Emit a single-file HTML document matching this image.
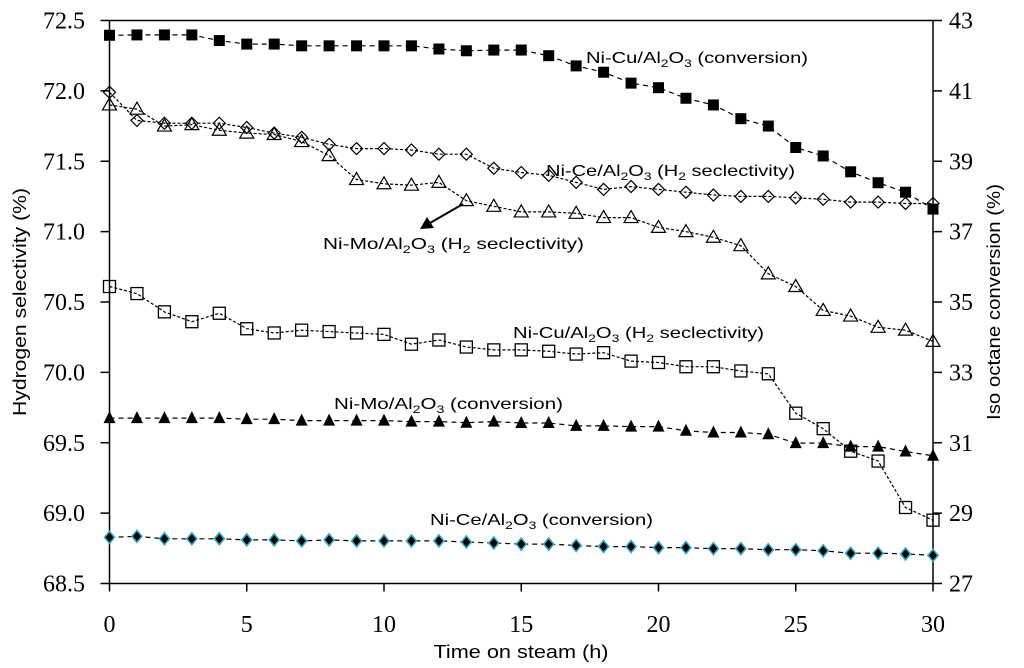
<!DOCTYPE html>
<html><head><meta charset="utf-8"><style>
html,body{margin:0;padding:0;background:#fff;}
svg{display:block;}
.lbl{font-family:"Liberation Sans",sans-serif;font-size:16px;fill:#000;}
.ttl{font-family:"Liberation Sans",sans-serif;font-size:18px;fill:#000;}
</style></head><body>
<svg id="chart" width="1024" height="668" viewBox="0 0 1024 668" xmlns="http://www.w3.org/2000/svg">
<g id="axes"></g>
<g id="series"></g>
<g id="labels">
  <text class="lbl" x="586" y="63" textLength="222" lengthAdjust="spacingAndGlyphs">Ni-Cu/Al<tspan font-size="11" dy="4">2</tspan><tspan dy="-4">O</tspan><tspan font-size="11" dy="4">3</tspan><tspan dy="-4"> (conversion)</tspan></text>
  <text class="lbl" x="546" y="176" textLength="249" lengthAdjust="spacingAndGlyphs">Ni-Ce/Al<tspan font-size="11" dy="4">2</tspan><tspan dy="-4">O</tspan><tspan font-size="11" dy="4">3</tspan><tspan dy="-4"> (H</tspan><tspan font-size="11" dy="4">2</tspan><tspan dy="-4"> seclectivity)</tspan></text>
  <text class="lbl" x="323" y="249" textLength="261" lengthAdjust="spacingAndGlyphs">Ni-Mo/Al<tspan font-size="11" dy="4">2</tspan><tspan dy="-4">O</tspan><tspan font-size="11" dy="4">3</tspan><tspan dy="-4"> (H</tspan><tspan font-size="11" dy="4">2</tspan><tspan dy="-4"> seclectivity)</tspan></text>
  <text class="lbl" x="513" y="338" textLength="251" lengthAdjust="spacingAndGlyphs">Ni-Cu/Al<tspan font-size="11" dy="4">2</tspan><tspan dy="-4">O</tspan><tspan font-size="11" dy="4">3</tspan><tspan dy="-4"> (H</tspan><tspan font-size="11" dy="4">2</tspan><tspan dy="-4"> seclectivity)</tspan></text>
  <text class="lbl" x="334" y="409" textLength="229" lengthAdjust="spacingAndGlyphs">Ni-Mo/Al<tspan font-size="11" dy="4">2</tspan><tspan dy="-4">O</tspan><tspan font-size="11" dy="4">3</tspan><tspan dy="-4"> (conversion)</tspan></text>
  <text class="lbl" x="430" y="525" textLength="223" lengthAdjust="spacingAndGlyphs">Ni-Ce/Al<tspan font-size="11" dy="4">2</tspan><tspan dy="-4">O</tspan><tspan font-size="11" dy="4">3</tspan><tspan dy="-4"> (conversion)</tspan></text>
  <line x1="463" y1="204" x2="430" y2="223" stroke="#000" stroke-width="2"/>
  <polygon points="420,229 427,217 434,228" fill="#000"/>
  <text class="ttl" x="521" y="658" text-anchor="middle" textLength="175" lengthAdjust="spacingAndGlyphs">Time on steam (h)</text>
  <text class="ttl" transform="translate(26,302) rotate(-90)" text-anchor="middle" textLength="228" lengthAdjust="spacingAndGlyphs">Hydrogen selectivity (%)</text>
  <text class="ttl" transform="translate(1000,302) rotate(-90)" text-anchor="middle" textLength="236" lengthAdjust="spacingAndGlyphs">Iso octane conversion (%)</text>
</g>
</svg>
<script>
const hours = [0,1,2,3,4,5,6,7,8,9,10,11,12,13,14,15,16,17,18,19,20,21,22,23,24,25,26,27,28,29,30];
const niCuConversion = [42.58,42.59,42.59,42.59,42.43,42.33,42.33,42.28,42.28,42.28,42.28,42.28,42.19,42.14,42.16,42.16,42.00,41.71,41.53,41.22,41.09,40.79,40.60,40.21,40.00,39.39,39.15,38.70,38.39,38.12,37.64];
const niCeSelectivity = [71.99,71.79,71.77,71.77,71.77,71.74,71.70,71.67,71.62,71.59,71.59,71.58,71.55,71.55,71.45,71.42,71.40,71.35,71.30,71.32,71.30,71.28,71.26,71.25,71.25,71.24,71.23,71.21,71.21,71.20,71.20];
const niMoSelectivity = [71.90,71.87,71.75,71.76,71.72,71.70,71.69,71.64,71.54,71.37,71.34,71.33,71.35,71.22,71.18,71.14,71.14,71.13,71.10,71.10,71.03,71.00,70.96,70.90,70.70,70.61,70.44,70.40,70.32,70.30,70.22];
const niCuSelectivity = [70.61,70.56,70.43,70.36,70.42,70.31,70.28,70.30,70.29,70.28,70.27,70.20,70.23,70.18,70.16,70.16,70.15,70.13,70.14,70.08,70.07,70.04,70.04,70.01,69.99,69.71,69.60,69.44,69.37,69.04,68.95];
const niMoConversion = [31.70,31.70,31.70,31.70,31.70,31.67,31.67,31.63,31.63,31.63,31.63,31.60,31.60,31.57,31.60,31.56,31.56,31.48,31.48,31.46,31.46,31.34,31.29,31.29,31.24,30.99,30.99,30.89,30.89,30.75,30.63];
const niCeConversion = [28.31,28.34,28.27,28.27,28.27,28.24,28.24,28.21,28.24,28.21,28.21,28.21,28.21,28.18,28.15,28.12,28.12,28.08,28.05,28.05,28.02,28.02,27.99,27.99,27.96,27.96,27.93,27.86,27.86,27.84,27.80];
const xTicks = [0,5,10,15,20,25,30];
const leftTicks = [68.5,69.0,69.5,70.0,70.5,71.0,71.5,72.0,72.5];
const rightTicks = [27,29,31,33,35,37,39,41,43];

const NS = "http://www.w3.org/2000/svg";
const X0 = 109.5, X1 = 933, YT = 20.5, YB = 583.5;
const SERIF = '"Liberation Serif", "DejaVu Serif", serif';
const xs = h => X0 + (h - 0) / 30 * (X1 - X0);
const yL = v => YB - (v - 68.5) / 4 * (YB - YT);
const yR = v => YB - (v - 27) / 16 * (YB - YT);
function mk(tag, attrs, parent) {
  const e = document.createElementNS(NS, tag);
  for (const k in attrs) e.setAttribute(k, attrs[k]);
  parent.appendChild(e);
  return e;
}
const axes = document.getElementById('axes');
const series = document.getElementById('series');

let e;
e = mk('rect', {x: X0, y: YT, width: X1 - X0, height: YB - YT, fill: 'none', stroke: '#000', 'stroke-width': 1.5}, axes);



function tickText(x, y, anchor, str, parent) {
  const l = mk('text', {x: x, y: y, 'text-anchor': anchor}, parent);
  l.style.fontFamily = SERIF;
  l.style.fontSize = '24px';
  l.style.fill = '#000';
  l.textContent = str;
  return l;
}
leftTicks.forEach(v => {
  const y = yL(v);
  let t = mk('line', {x1: X0 - 9, x2: X0, y1: y, y2: y, stroke: '#000', 'stroke-width': 1.5}, axes);
  
  
  let l = tickText(85, y + 8, 'end', v.toFixed(1), axes);
  
  
});
rightTicks.forEach(v => {
  const y = yR(v);
  let t = mk('line', {x1: X1, x2: X1 + 9, y1: y, y2: y, stroke: '#000', 'stroke-width': 1.5}, axes);
  
  
  let l = tickText(949, y + 8, 'start', String(v), axes);
  
  
});
xTicks.forEach(v => {
  const x = xs(v);
  let t = mk('line', {x1: x, x2: x, y1: YB, y2: YB + 8, stroke: '#000', 'stroke-width': 1.5}, axes);
  
  
  let l = tickText(x, 632, 'middle', String(v), axes);
  
  
});

function marker(kind, x, y, g) {
  let m;
  if (kind === 'fsquare') m = mk('rect', {x: x - 5.5, y: y - 5.5, width: 11, height: 11, fill: '#000'}, g);
  else if (kind === 'osquare') m = mk('rect', {x: x - 6, y: y - 6, width: 12, height: 12, fill: 'none', stroke: '#000', 'stroke-width': 1.3}, g);
  else if (kind === 'odiamond') m = mk('polygon', {points: `${x},${y-6} ${x+6},${y} ${x},${y+6} ${x-6},${y}`, fill: 'none', stroke: '#000', 'stroke-width': 1.2}, g);
  else if (kind === 'otri') m = mk('polygon', {points: `${x},${y-7} ${x+7},${y+5} ${x-7},${y+5}`, fill: 'none', stroke: '#000', 'stroke-width': 1.2}, g);
  else if (kind === 'ftri') m = mk('polygon', {points: `${x},${y-7} ${x+6},${y+5} ${x-6},${y+5}`, fill: '#000'}, g);
  else m = mk('polygon', {points: `${x},${y-6} ${x+5},${y} ${x},${y+6} ${x-5},${y}`, fill: '#000', stroke: '#3aa7c0', 'stroke-width': 1.6}, g);
  return m;
}
function drawSeries(name, vals, scale, kind, dash) {
  const g = mk('g', {}, series);
  
  
  const pts = hours.map((h, i) => xs(h).toFixed(1) + ',' + scale(vals[i]).toFixed(1)).join(' ');
  const pl = mk('polyline', {points: pts, fill: 'none', stroke: '#000', 'stroke-width': 1.2, 'stroke-dasharray': dash}, g);
  
  
  hours.forEach((h, i) => {
    const m = marker(kind, xs(h), scale(vals[i]), g);
    
    
  });
}
drawSeries('nice-conversion', niCeConversion, yR, 'fdiamond', '5,4');
drawSeries('nimo-conversion', niMoConversion, yR, 'ftri', '5,4');
drawSeries('nicu-h2-selectivity', niCuSelectivity, yL, 'osquare', '3,2');
drawSeries('nimo-h2-selectivity', niMoSelectivity, yL, 'otri', '3,2');
drawSeries('nice-h2-selectivity', niCeSelectivity, yL, 'odiamond', '3,2');
drawSeries('nicu-conversion', niCuConversion, yR, 'fsquare', '5,4');
</script>
</body></html>
